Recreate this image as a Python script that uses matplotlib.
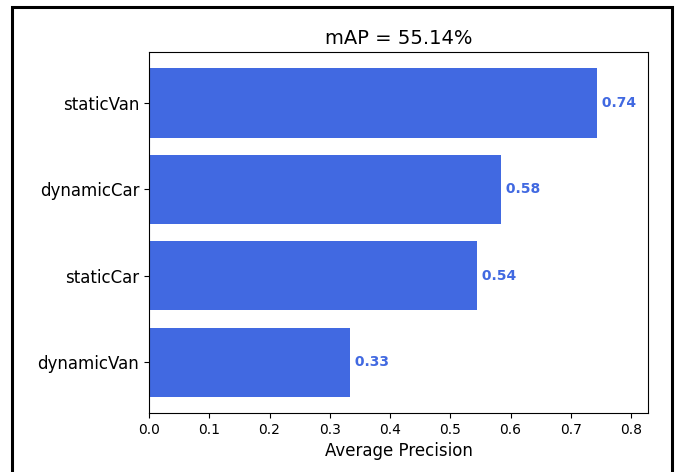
import matplotlib
matplotlib.use("Agg")
import matplotlib.pyplot as plt
from matplotlib.patches import Rectangle

# classes listed bottom to top, as barh draws them
clases = ["dynamicVan", "staticCar", "dynamicCar", "staticVan"]
ap = [0.334, 0.544, 0.584, 0.744]
titulo = "mAP = 55.14%"
color = "royalblue"

fig = plt.figure(figsize=(6.81, 4.72), dpi=100)
ax = fig.add_axes([149 / 681, 59 / 472, 499 / 681, 361 / 472])

ax.barh(range(len(clases)), ap, color=color)
ax.set_yticks(range(len(clases)))
ax.set_yticklabels(clases, fontsize="large")

# valores al final de cada barra
for i, val in enumerate(ap):
    ax.text(val, i, " {0:.2f}".format(val), color=color, va="center",
            fontweight="bold", fontsize=10)

ax.set_xlim(0, 0.828)
ax.set_title(titulo, fontsize=14)
ax.set_xlabel("Average Precision", fontsize="large")

# marco negro alrededor de la figura
borde = Rectangle((12 / 681, -0.1), 659.5 / 681, 1.1 - 6.5 / 472,
                  transform=fig.transFigure, fill=False, edgecolor="black",
                  linewidth=2.2, clip_on=False)
fig.patches.append(borde)

fig.savefig("out.png", dpi=100)
